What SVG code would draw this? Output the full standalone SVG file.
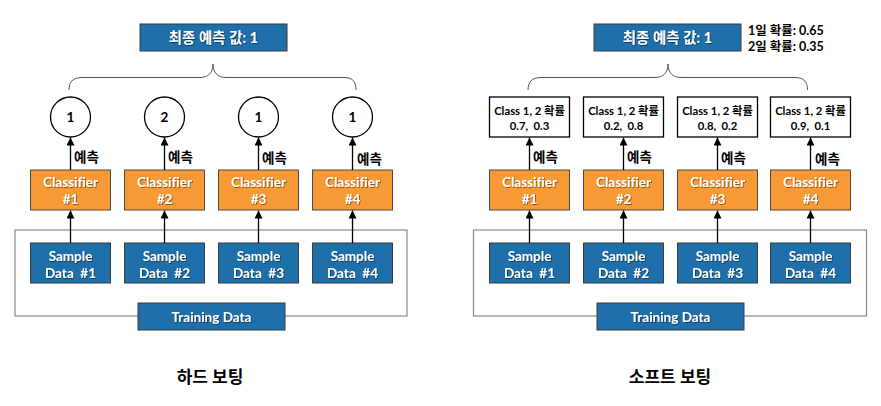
<svg xmlns="http://www.w3.org/2000/svg" width="881" height="406" viewBox="0 0 881 406">
<defs>
<marker id="ah" viewBox="0 0 10 10" refX="10" refY="5" markerWidth="8" markerHeight="8" markerUnits="userSpaceOnUse" orient="auto">
<path d="M0,0 L10,5 L0,10 z" fill="#000"/>
</marker>
<filter id="sh" x="-10%" y="-30%" width="120%" height="160%">
<feDropShadow dx="0.8" dy="0.8" stdDeviation="0.6" flood-color="#000" flood-opacity="0.55"/>
</filter>
</defs>
<style>
text{font-family:Lato,"Noto Sans CJK KR",sans-serif;font-weight:bold;text-anchor:middle;font-variant-ligatures:none;white-space:pre;}
.blue{fill:#1F6FAA;stroke:#3a3a3a;stroke-width:1;}
.orange{fill:#F79A36;stroke:#4a4a4a;stroke-width:1;}
.wt{fill:#fff;font-size:13.5px;filter:url(#sh);}
.wk{fill:#fff;font-size:14.5px;filter:url(#sh);}
.circ{fill:#fff;stroke:#000;stroke-width:1.3;}
.prob{fill:#fff;stroke:#000;stroke-width:1.3;}
.outer{fill:none;stroke:#888;stroke-width:1.2;}
.brace{fill:none;stroke:#555;stroke-width:1;}
.arr{stroke:#000;stroke-width:1.3;fill:none;marker-end:url(#ah);}
.lbl{fill:#000;font-size:13.5px;text-anchor:start;}
.num{fill:#000;font-size:13.5px;}
.side{fill:#000;font-size:12.5px;text-anchor:start;}
.pt{fill:#000;font-size:11.3px;}
.title{fill:#000;font-size:17px;}
</style>

<!-- LEFT: hard voting -->
<g id="left-outer"><rect class="outer" x="15" y="230" width="392" height="86"/></g>
<g id="left-final"><rect class="blue" x="140" y="24" width="147" height="27"/><text class="wk" x="213.5" y="42.5" xml:space="preserve">최종 예측 값: 1</text></g>
<g id="left-training"><rect class="blue" x="138" y="303" width="147" height="27"/><text class="wt" x="211.5" y="321.5">Training Data</text></g>

<g id="left-c1"><circle class="circ" cx="70.5" cy="117" r="20"/><text class="num" x="70.5" y="122">1</text></g>
<g id="left-c2"><circle class="circ" cx="164.5" cy="117" r="20"/><text class="num" x="164.5" y="122">2</text></g>
<g id="left-c3"><circle class="circ" cx="258.5" cy="117" r="20"/><text class="num" x="258.5" y="122">1</text></g>
<g id="left-c4"><circle class="circ" cx="352.5" cy="117" r="20"/><text class="num" x="352.5" y="122">1</text></g>

<g id="left-clf1"><rect class="orange" x="30.5" y="170" width="80" height="40"/><text class="wt" x="70.5" y="187">Classifier</text><text class="wt" x="70.5" y="204">#1</text></g>
<g id="left-clf2"><rect class="orange" x="124.5" y="170" width="80" height="40"/><text class="wt" x="164.5" y="187">Classifier</text><text class="wt" x="164.5" y="204">#2</text></g>
<g id="left-clf3"><rect class="orange" x="218.5" y="170" width="80" height="40"/><text class="wt" x="258.5" y="187">Classifier</text><text class="wt" x="258.5" y="204">#3</text></g>
<g id="left-clf4"><rect class="orange" x="312.5" y="170" width="80" height="40"/><text class="wt" x="352.5" y="187">Classifier</text><text class="wt" x="352.5" y="204">#4</text></g>

<g id="left-s1"><rect class="blue" x="30.5" y="243" width="80" height="40"/><text class="wt" x="70.5" y="260.5">Sample</text><text class="wt" x="70.5" y="277.5" xml:space="preserve">Data  #1</text></g>
<g id="left-s2"><rect class="blue" x="124.5" y="243" width="80" height="40"/><text class="wt" x="164.5" y="260.5">Sample</text><text class="wt" x="164.5" y="277.5" xml:space="preserve">Data  #2</text></g>
<g id="left-s3"><rect class="blue" x="218.5" y="243" width="80" height="40"/><text class="wt" x="258.5" y="260.5">Sample</text><text class="wt" x="258.5" y="277.5" xml:space="preserve">Data  #3</text></g>
<g id="left-s4"><rect class="blue" x="312.5" y="243" width="80" height="40"/><text class="wt" x="352.5" y="260.5">Sample</text><text class="wt" x="352.5" y="277.5" xml:space="preserve">Data  #4</text></g>

<g id="left-title"><text class="title" x="210" y="383">하드 보팅</text></g>

<!-- RIGHT: soft voting -->
<g id="right-outer"><rect class="outer" x="473.5" y="230" width="393" height="86"/></g>
<g id="right-final"><rect class="blue" x="594" y="24" width="147" height="27"/><text class="wk" x="667.5" y="42.5" xml:space="preserve">최종 예측 값: 1</text></g>
<g id="right-probtext"><text class="side" x="748" y="35">1일 확률: 0.65</text><text class="side" x="748" y="50.5">2일 확률: 0.35</text></g>
<g id="right-training"><rect class="blue" x="597" y="303" width="147" height="27"/><text class="wt" x="670.5" y="321.5">Training Data</text></g>

<g id="right-p1"><rect class="prob" x="489.5" y="97" width="80" height="40"/><text class="pt" x="529.5" y="114.5">Class 1, 2 확률</text><text class="pt" x="529.5" y="129.5" xml:space="preserve">0.7,  0.3</text></g>
<g id="right-p2"><rect class="prob" x="583.5" y="97" width="80" height="40"/><text class="pt" x="623.5" y="114.5">Class 1, 2 확률</text><text class="pt" x="623.5" y="129.5" xml:space="preserve">0.2,  0.8</text></g>
<g id="right-p3"><rect class="prob" x="677.5" y="97" width="80" height="40"/><text class="pt" x="717.5" y="114.5">Class 1, 2 확률</text><text class="pt" x="717.5" y="129.5" xml:space="preserve">0.8,  0.2</text></g>
<g id="right-p4"><rect class="prob" x="770.5" y="97" width="80" height="40"/><text class="pt" x="810.5" y="114.5">Class 1, 2 확률</text><text class="pt" x="810.5" y="129.5" xml:space="preserve">0.9,  0.1</text></g>

<g id="right-clf1"><rect class="orange" x="489.5" y="170" width="80" height="40"/><text class="wt" x="529.5" y="187">Classifier</text><text class="wt" x="529.5" y="204">#1</text></g>
<g id="right-clf2"><rect class="orange" x="583.5" y="170" width="80" height="40"/><text class="wt" x="623.5" y="187">Classifier</text><text class="wt" x="623.5" y="204">#2</text></g>
<g id="right-clf3"><rect class="orange" x="677.5" y="170" width="80" height="40"/><text class="wt" x="717.5" y="187">Classifier</text><text class="wt" x="717.5" y="204">#3</text></g>
<g id="right-clf4"><rect class="orange" x="770.5" y="170" width="80" height="40"/><text class="wt" x="810.5" y="187">Classifier</text><text class="wt" x="810.5" y="204">#4</text></g>

<g id="right-s1"><rect class="blue" x="489.5" y="243" width="80" height="40"/><text class="wt" x="529.5" y="260.5">Sample</text><text class="wt" x="529.5" y="277.5" xml:space="preserve">Data  #1</text></g>
<g id="right-s2"><rect class="blue" x="583.5" y="243" width="80" height="40"/><text class="wt" x="623.5" y="260.5">Sample</text><text class="wt" x="623.5" y="277.5" xml:space="preserve">Data  #2</text></g>
<g id="right-s3"><rect class="blue" x="677.5" y="243" width="80" height="40"/><text class="wt" x="717.5" y="260.5">Sample</text><text class="wt" x="717.5" y="277.5" xml:space="preserve">Data  #3</text></g>
<g id="right-s4"><rect class="blue" x="770.5" y="243" width="80" height="40"/><text class="wt" x="810.5" y="260.5">Sample</text><text class="wt" x="810.5" y="277.5" xml:space="preserve">Data  #4</text></g>

<g id="right-title"><text class="title" x="670" y="383">소프트 보팅</text></g>

<!-- connectors -->
<g id="connectors">
<path class="brace" d="M69,90 C69,82 73,77.5 82,77.5 L200,77.5 C208,77.5 213,73 213,64 C213,73 218,77.5 226,77.5 L344,77.5 C353,77.5 356,82 356,90"/>
<path class="brace" d="M528,90 C528,82 532,77.5 541,77.5 L655,77.5 C663,77.5 668,73 668,64 C668,73 673,77.5 681,77.5 L795,77.5 C804,77.5 807.5,82 807.5,90"/>

<line class="arr" x1="70.5" y1="243" x2="70.5" y2="210.5"/>
<line class="arr" x1="164.5" y1="243" x2="164.5" y2="210.5"/>
<line class="arr" x1="258.5" y1="243" x2="258.5" y2="210.5"/>
<line class="arr" x1="352.5" y1="243" x2="352.5" y2="210.5"/>
<line class="arr" x1="70.5" y1="170" x2="70.5" y2="137.5"/>
<line class="arr" x1="164.5" y1="170" x2="164.5" y2="137.5"/>
<line class="arr" x1="258.5" y1="170" x2="258.5" y2="137.5"/>
<line class="arr" x1="352.5" y1="170" x2="352.5" y2="137.5"/>

<line class="arr" x1="529.5" y1="243" x2="529.5" y2="210.5"/>
<line class="arr" x1="623.5" y1="243" x2="623.5" y2="210.5"/>
<line class="arr" x1="717.5" y1="243" x2="717.5" y2="210.5"/>
<line class="arr" x1="810.5" y1="243" x2="810.5" y2="210.5"/>
<line class="arr" x1="529.5" y1="170" x2="529.5" y2="137.5"/>
<line class="arr" x1="623.5" y1="170" x2="623.5" y2="137.5"/>
<line class="arr" x1="717.5" y1="170" x2="717.5" y2="137.5"/>
<line class="arr" x1="810.5" y1="170" x2="810.5" y2="137.5"/>

<text class="lbl" x="74" y="162">예측</text>
<text class="lbl" x="168" y="162">예측</text>
<text class="lbl" x="262" y="163">예측</text>
<text class="lbl" x="357" y="164">예측</text>
<text class="lbl" x="533" y="162">예측</text>
<text class="lbl" x="627" y="162">예측</text>
<text class="lbl" x="721" y="163">예측</text>
<text class="lbl" x="815" y="164">예측</text>
</g>
</svg>
